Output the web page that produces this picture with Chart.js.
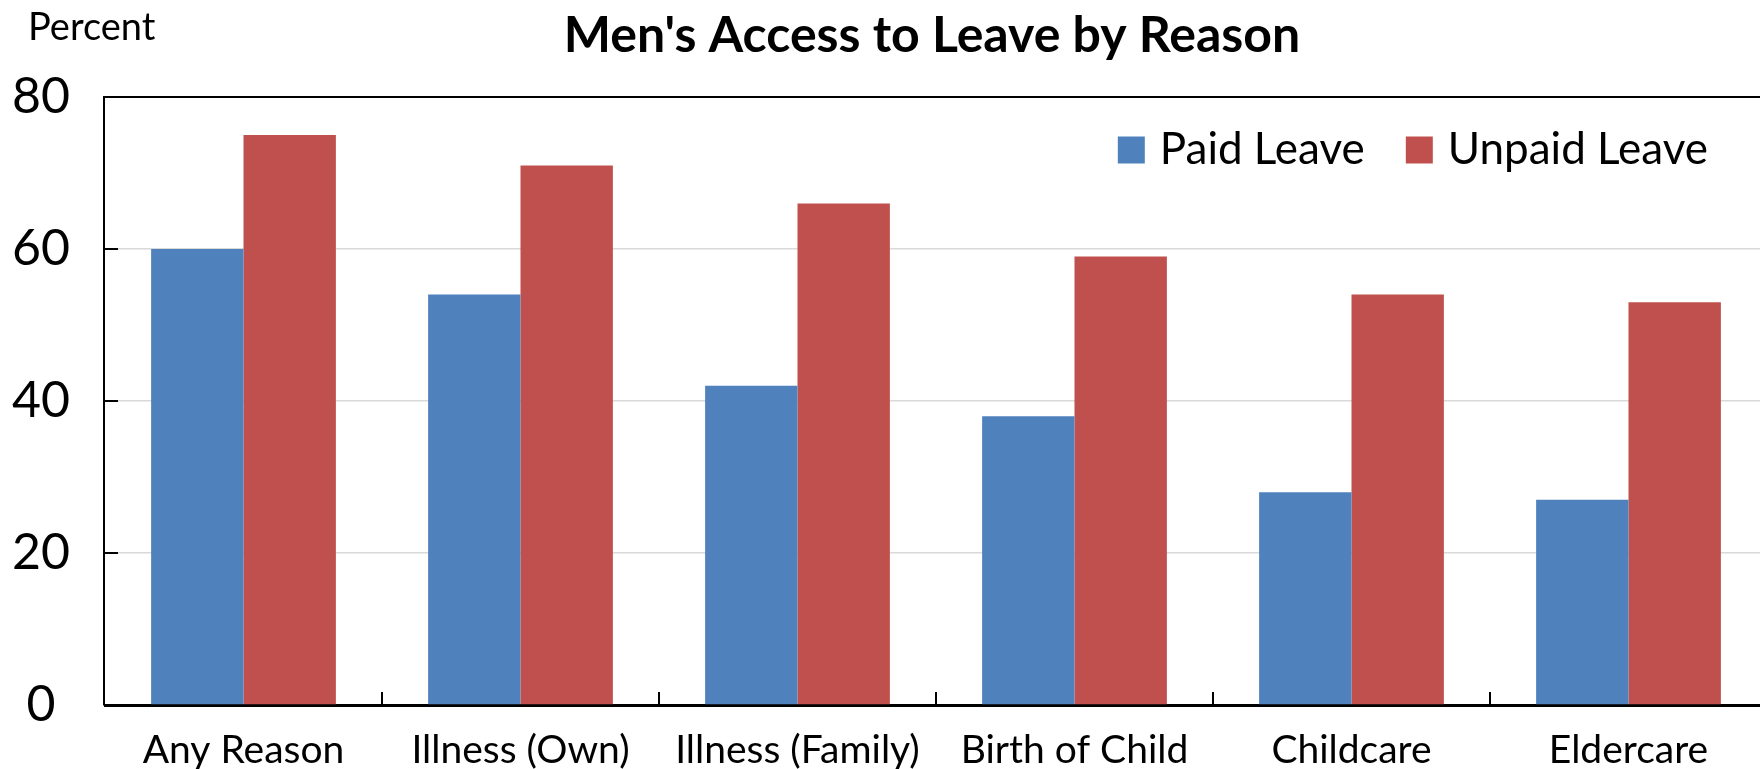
<!DOCTYPE html>
<html lang="en">
<head>
<meta charset="UTF-8">
<title>Men's Access to Leave by Reason</title>
<script src="https://cdn.jsdelivr.net/npm/chart.js"></script>
<style>
  html, body { margin: 0; padding: 0; background: #fff; }
  .chart-box { position: relative; width: 1760px; height: 769px; }
</style>
</head>
<body>
<div class="chart-box"><canvas id="leaveChart"></canvas></div>
<script>
// Chart data
const reasons = ['Any Reason', 'Illness (Own)', 'Illness (Family)', 'Birth of Child', 'Childcare', 'Eldercare'];
const paidLeave = [60, 54, 42, 38, 28, 27];
const unpaidLeave = [75, 71, 66, 59, 54, 53];
const yTicks = [0, 20, 40, 60, 80];

const FONT = 'Lato';

// "Percent" label, inside tick marks and the in-plot legend
const axisExtras = {
    id: 'axisExtras',
    // the original plot runs a few pixels past the right edge of the picture
    afterLayout(chart) {
        const s = chart.scales.x;
        s.left += 1;
        s.right += 7;
        s.width = s.right - s.left;
        s.configure();
    },
    afterDraw(chart) {
        const ctx = chart.ctx;
        const area = chart.chartArea;
        const x = chart.scales.x;
        const y = chart.scales.y;
        ctx.save();
        ctx.fillStyle = '#000';
        ctx.font = '38px ' + FONT;
        ctx.textBaseline = 'middle';
        ctx.textAlign = 'left';
        ctx.fillText('Percent', 28, 28);

        ctx.strokeStyle = '#000';
        ctx.lineWidth = 2;
        yTicks.forEach(v => {
            const py = Math.round(y.getPixelForValue(v));
            ctx.beginPath();
            ctx.moveTo(area.left, py);
            ctx.lineTo(area.left + 14, py);
            ctx.stroke();
        });
        for (let i = 1; i < reasons.length; i++) {
            const px = Math.round((x.getPixelForValue(i - 1) + x.getPixelForValue(i)) / 2);
            ctx.beginPath();
            ctx.moveTo(px, area.bottom);
            ctx.lineTo(px, area.bottom - 13);
            ctx.stroke();
        }

        // legend, right aligned inside the plot
        ctx.font = '44px ' + FONT;
        const box = 27, gapText = 15, gapItem = 41;
        const items = chart.data.datasets.map(ds => ({ text: ds.label, color: ds.backgroundColor, w: ctx.measureText(ds.label).width }));
        let total = 0;
        items.forEach((it, i) => { total += box + gapText + it.w + (i ? gapItem : 0); });
        let lx = chart.width - 52 - total;
        const cy = 150;
        items.forEach((it, i) => {
            if (i) lx += gapItem;
            ctx.fillStyle = it.color;
            ctx.fillRect(lx, cy - box / 2, box, box);
            lx += box + gapText;
            ctx.fillStyle = '#000';
            ctx.fillText(it.text, lx, cy);
            lx += it.w;
        });
        ctx.restore();
    }
};

new Chart(document.getElementById('leaveChart'), {
    type: 'bar',
    data: {
        labels: reasons,
        datasets: [
            { label: 'Paid Leave', data: paidLeave, backgroundColor: '#4F81BD' },
            { label: 'Unpaid Leave', data: unpaidLeave, backgroundColor: '#C0504D' }
        ]
    },
    options: {
        responsive: true,
        maintainAspectRatio: false,
        animation: false,
        layout: { padding: 0 },
        datasets: {
            bar: { categoryPercentage: 0.667, barPercentage: 1.0, borderWidth: 0 }
        },
        plugins: {
            title: {
                display: true,
                text: "Men's Access to Leave by Reason",
                color: '#000',
                fullSize: false,
                font: { family: FONT, size: 50, weight: 'bold' },
                padding: { top: 6, bottom: 31 }
            },
            legend: { display: false },
            tooltip: { enabled: false }
        },
        scales: {
            x: {
                grid: { display: false, drawTicks: false },
                border: { display: true, color: '#000', width: 3 },
                ticks: { color: '#000', padding: 22, font: { family: FONT, size: 39 } },
                afterFit(scale) { scale.height = 64; }
            },
            y: {
                min: yTicks[0],
                max: yTicks[yTicks.length - 1],
                grid: {
                    drawTicks: false,
                    color: ctx => ctx.tick && ctx.tick.value === 80 ? '#000' : '#d9d9d9',
                    lineWidth: ctx => ctx.tick && ctx.tick.value === 80 ? 2 : 1.5
                },
                border: { display: true, color: '#000', width: 2 },
                ticks: {
                    stepSize: 20,
                    color: '#000',
                    padding: 34,
                    crossAlign: 'center',
                    font: { family: FONT, size: 50 }
                },
                afterFit(scale) { scale.width = 104; }
            }
        }
    },
    plugins: [axisExtras]
});
</script>
</body>
</html>
